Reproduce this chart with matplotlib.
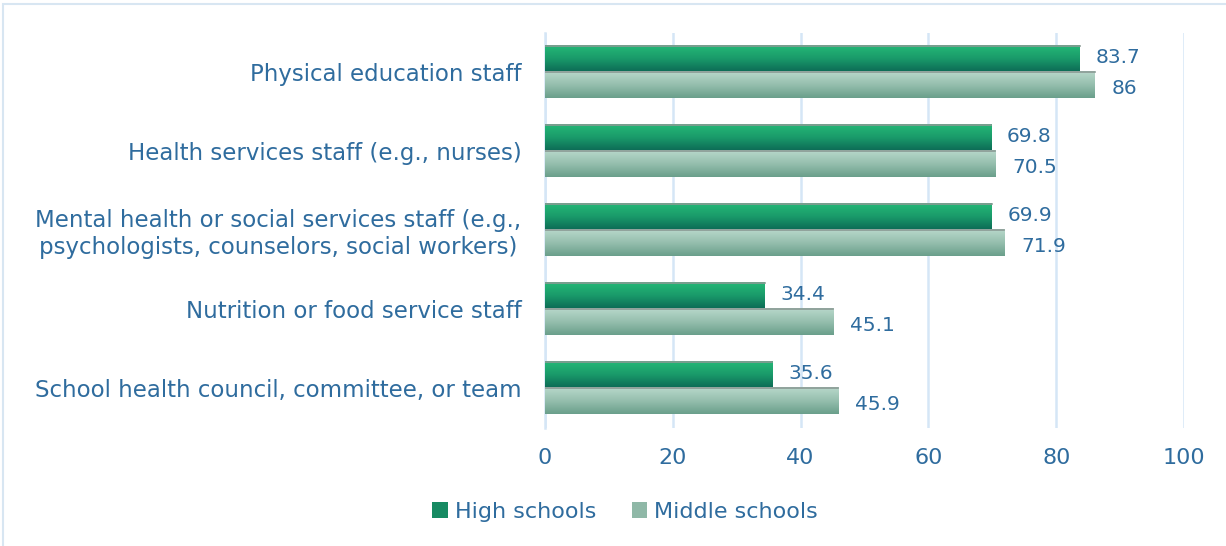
import numpy as np
import matplotlib.pyplot as plt
from matplotlib.colors import LinearSegmentedColormap
from matplotlib.patches import Rectangle

categories = [
    'Physical education staff',
    'Health services staff (e.g., nurses)',
    'Mental health or social services staff (e.g.,\npsychologists, counselors, social workers)',
    'Nutrition or food service staff',
    'School health council, committee, or team',
]
high_schools = [83.7, 69.8, 69.9, 34.4, 35.6]
middle_schools = [86, 70.5, 71.9, 45.1, 45.9]
middle_labels = ['86', '70.5', '71.9', '45.1', '45.9']
x_ticks = [0, 20, 40, 60, 80, 100]

TEXT = '#2f6c9e'
GRID = '#d5e6f6'
plt.rcParams['font.family'] = ['DejaVu Sans']

cmap_high = LinearSegmentedColormap.from_list('h', ['#24b877', '#1a9a6a', '#0c6a55'])
cmap_mid = LinearSegmentedColormap.from_list('m', ['#b8d8cb', '#96bfae', '#6a9f8b'])

fig = plt.figure(figsize=(12.26, 5.46), dpi=100)
ax = fig.add_axes([545 / 1226, 1 - 427.5 / 546, 639 / 1226, 395 / 546])

y = np.arange(len(categories))
h = 0.335
bars_h = ax.barh(y - h / 2, high_schools, height=h, color='#1a9a6a', zorder=2)
bars_m = ax.barh(y + h / 2, middle_schools, height=h, color='#96bfae', zorder=2)

grad = np.linspace(0, 1, 64).reshape(-1, 1)
for bars, cmap in [(bars_h, cmap_high), (bars_m, cmap_mid)]:
    for b in bars:
        x0, y0, w, hh = b.get_x(), b.get_y(), b.get_width(), b.get_height()
        ax.imshow(grad, cmap=cmap, aspect='auto', extent=(x0, x0 + w, y0 + hh, y0),
                  zorder=3, interpolation='bicubic')
        ax.plot([x0, x0 + w], [y0, y0], color='#8a9a94', lw=1.2, zorder=4)

for i in range(len(categories)):
    ax.text(high_schools[i] + 2.5, y[i] - h / 2 - 0.02, str(high_schools[i]), va='center', ha='left',
            fontsize=14.5, color=TEXT)
    ax.text(middle_schools[i] + 2.6, y[i] + h / 2 + 0.04, middle_labels[i], va='center', ha='left',
            fontsize=14.5, color=TEXT)

ax.set_xlim(0, 100)
ax.set_ylim(len(categories) - 0.5, -0.5)
ax.set_xticks(x_ticks)
ax.set_yticks(y)
ax.set_yticklabels(categories, multialignment='center')
ax.tick_params(axis='both', length=0, labelsize=16.5, labelcolor=TEXT)
ax.tick_params(axis='x', labelsize=16, pad=15)
ax.tick_params(axis='y', pad=17)
ax.grid(axis='x', color=GRID, lw=1.8, zorder=0)
ax.set_axisbelow(True)
for s in ['top', 'right', 'bottom']:
    ax.spines[s].set_visible(False)
ax.spines['left'].set_color(GRID)
ax.spines['left'].set_linewidth(1.8)

handles = [Rectangle((0, 0), 1, 1, facecolor='#178a62'), Rectangle((0, 0), 1, 1, facecolor='#8fb8a7')]
fig.legend(handles, ['High schools', 'Middle schools'], loc='center', bbox_to_anchor=(625 / 1226, 1 - 512 / 546),
           ncol=2, frameon=False, fontsize=16, labelcolor=TEXT, handlelength=0.7, handleheight=0.7,
           handletextpad=0.3, columnspacing=1.6)

fig.add_artist(Rectangle((3 / 1226, -0.1), 1.1, 1 - 3.5 / 546 + 0.1, transform=fig.transFigure,
                         fill=False, edgecolor='#d8e6f2', lw=1.5))

fig.savefig('out.png', dpi=100)
